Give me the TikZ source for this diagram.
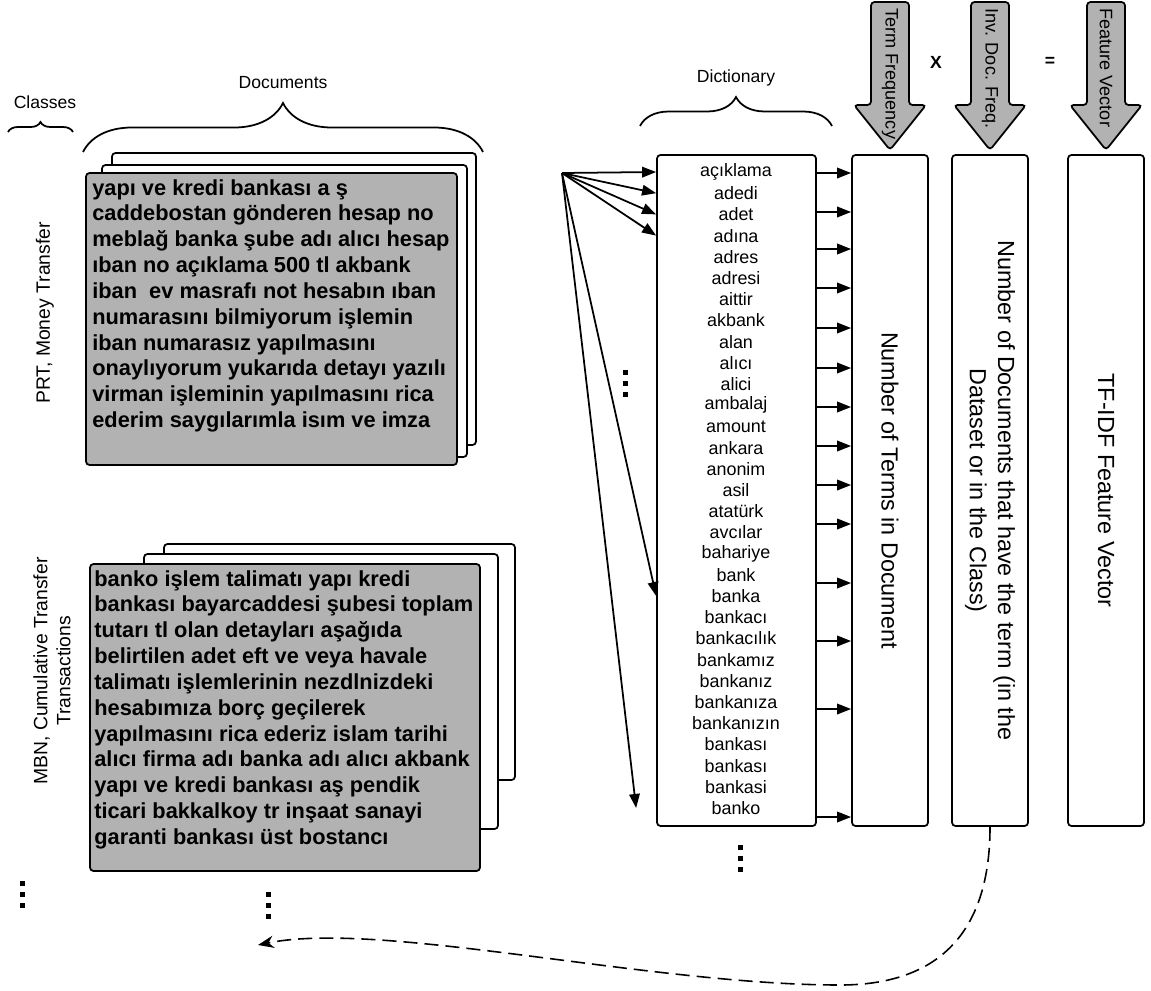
\documentclass[tikz,border=0pt]{standalone}
\usepackage{fontspec}
\setmainfont{Liberation Sans}
\usetikzlibrary{arrows.meta,positioning,calc,fit,decorations.pathreplacing}
\tikzset{
  sheet/.style={draw,fill=white,rounded corners=2pt,line width=1pt,inner sep=0pt},
  docbox/.style={sheet,fill=gray!60},
  doctxt/.style={font=\fontsize{12.4}{14.7}\selectfont\bfseries,align=left,anchor=north west,inner sep=0pt},
  colbox/.style={draw,rounded corners=2pt,line width=1pt,inner sep=0pt},
  coltxt/.style={font=\fontsize{13.3}{16}\selectfont,rotate=-90,align=center},
  word/.style={font=\fontsize{10.2}{12}\selectfont,inner sep=0pt},
  lbl/.style={font=\fontsize{10}{12}\selectfont},
  clslbl/.style={font=\fontsize{11}{13}\selectfont,rotate=90,align=center},
  bigarr/.style={draw,fill=gray!60,rounded corners=2pt,line width=1pt},
  arrlbl/.style={font=\fontsize{10.3}{11}\selectfont,rotate=-90,anchor=west,inner sep=0pt},
  oplbl/.style={font=\fontsize{10}{12}\selectfont\bfseries},
  vdot/.style={fill=black},
  arr/.style={-{Triangle[length=8pt,width=6pt]},line width=1pt},
  back/.style={-{Stealth[length=9pt,width=7pt]},line width=0.9pt,dash pattern=on 8pt off 4pt},
  brc/.style={decorate,decoration={brace,amplitude=#1},line width=1pt}
}
\begin{document}
\begin{tikzpicture}[x=0.02cm,y=-0.02cm]
  \useasboundingbox (0,0) rectangle (1151,990);

  % headers and braces
  \node[lbl] (classes) at (45,102) {Classes};
  \draw[brc=0.2cm] (8,132) -- (73,132);
  \node[lbl] (documents) at (283,83) {Documents};
  \draw[brc=0.98cm] (83,152) -- (483,152);
  \node[lbl] (dictionary) at (736,78) {Dictionary};
  \draw[brc=0.58cm] (640,126) -- (832,126);

  % class labels
  \node[clslbl] (prt) at (45,313) {PRT, Money Transfer};
  \node[clslbl] (mbn) at (52,671) {MBN, Cumulative Transfer\\Transactions};

  % first document stack
  \node[sheet, fit={(112,153) (476,445)}] (doc1c) {};
  \node[sheet, fit={(102,165) (467,457)}] (doc1b) {};
  \node[docbox, fit={(86,173) (457,465)}] (doc1) {};
  \node[doctxt] (doc1txt) at (92,179) {yapı ve kredi bankası a ş\\
    caddebostan gönderen hesap no\\
    meblağ banka şube adı alıcı hesap\\
    ıban no açıklama 500 tl akbank\\
    iban\ \ ev masrafı not hesabın ıban\\
    numarasını bilmiyorum işlemin\\
    iban numarasız yapılmasını\\
    onaylıyorum yukarıda detayı yazılı\\
    virman işleminin yapılmasını rica\\
    ederim saygılarımla isım ve imza};

  % second document stack
  \node[sheet, fit={(164,544) (515,780)}] (doc2c) {};
  \node[sheet, fit={(144,554) (498,829)}] (doc2b) {};
  \node[docbox, fit={(90,564) (480,871)}] (doc2) {};
  \node[doctxt] (doc2txt) at (94,570) {banko işlem talimatı yapı kredi\\
    bankası bayarcaddesi şubesi toplam\\
    tutarı tl olan detayları aşağıda\\
    belirtilen adet eft ve veya havale\\
    talimatı işlemlerinin nezdlnizdeki\\
    hesabımıza borç geçilerek\\
    yapılmasını rica ederiz islam tarihi\\
    alıcı firma adı banka adı alıcı akbank\\
    yapı ve kredi bankası aş pendik\\
    ticari bakkalkoy tr inşaat sanayi\\
    garanti bankası üst bostancı};

  % dictionary
  \node[colbox, fit={(657,155) (816,826)}] (dict) {};
  \foreach \w [count=\i] in {açıklama,adedi,adet,adına,adres,adresi,aittir,akbank,alan,alıcı,alici,ambalaj,amount,ankara,anonim,asil,atatürk,avcılar,bahariye,bank,banka,bankacı,bankacılık,bankamız,bankanız,bankanıza,bankanızın,bankası,bankası,bankasi,banko}
    \node[word] (w\i) at (736,{172+(\i-1)*21.2}) {\w};

  % vertical dots
  \foreach \dx/\dy in {22/894, 268/905, 625/383, 740/858}
    \foreach \k in {-1,0,1}
      \fill[vdot] (\dx-2.5,\dy+\k*11-2.5) rectangle ++(5,5);

  \coordinate (src) at (562,173);
  \foreach \i in {1,...,4}
    \draw[arr] (src) -- (w\i.west -| dict.west);
  \draw[arr] (src) -- (w21.west -| dict.west);
  \draw[arr] (src) -- ($(w31.west -| dict.west)+(-20,0)$);

  % tf, idf and feature columns
  \node[colbox, fit={(852,155) (928,826)}] (tf) {};
  \node[colbox, fit={(952,155) (1028,826)}] (idf) {};
  \node[colbox, fit={(1068,155) (1144,826)}] (fv) {};
  \node[coltxt] (tftxt) at (tf.center) {Number of Terms in Document};
  \node[coltxt] (idftxt) at (idf.center) {Number of Documents that have the term (in the\\Dataset or in the Class)};
  \node[coltxt] (fvtxt) at (fv.center) {TF-IDF Feature Vector};

  \foreach \y in {173,212,249,288,328,368,407,446,485,524,583,641,709,817} {
    \coordinate (ry) at (0,\y);
    \draw[arr] (dict.east |- ry) -- (tf.west |- ry);
  }

  % big arrows on top
  \foreach \cx/\txt/\nm in {890/Term Frequency/tfarr, 990/Inv. Doc. Freq./idfarr, 1106/Feature Vector/fvarr} {
    \draw[bigarr] (\cx-19,2) -- (\cx+19,2) -- (\cx+19,105) -- (\cx+36,105) -- (\cx,150) -- (\cx-36,105) -- (\cx-19,105) -- cycle;
    \node[arrlbl] (\nm) at (\cx,8) {\txt};
  }
  \node[oplbl] (times) at (936,62) {X};
  \node[oplbl] (equals) at (1050,62) {=};

  % back to the documents
  \coordinate (ret) at (258,945);
  \draw[back] (idf.south) .. controls (990,920) and (950,985) .. (840,985)
    .. controls (650,985) and (380,920) .. (ret);
\end{tikzpicture}
\end{document}
